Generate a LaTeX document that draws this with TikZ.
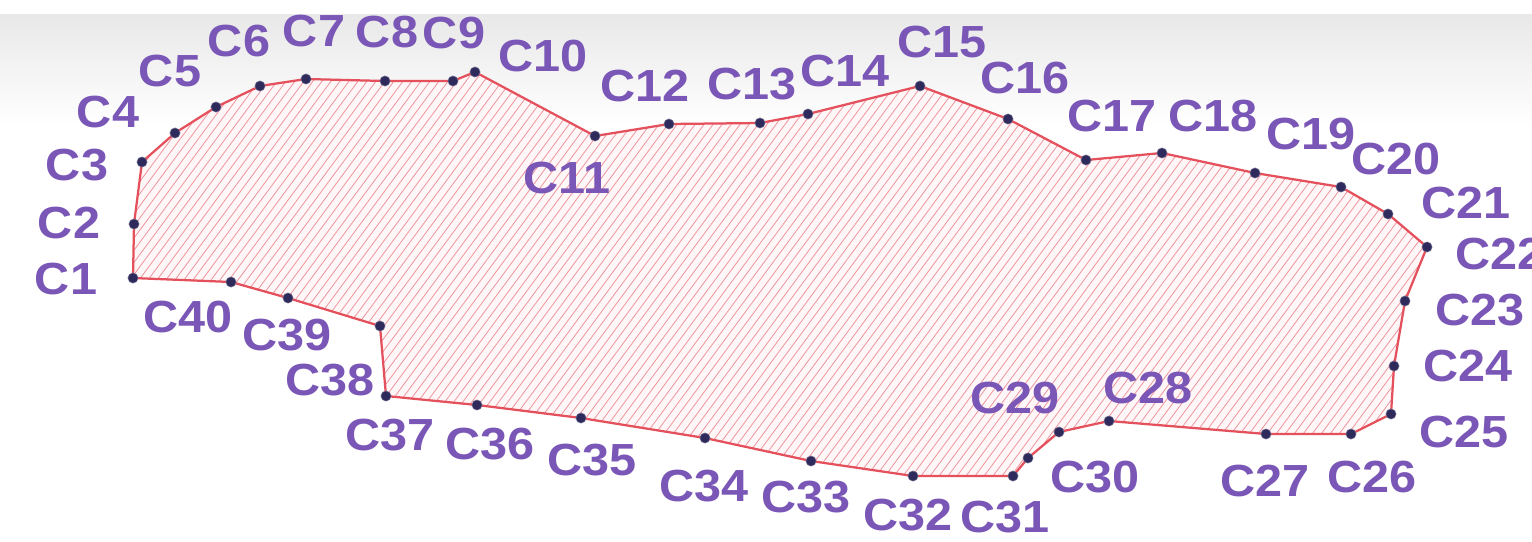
\documentclass[tikz,border=0pt]{standalone}
\usepackage{fontspec}
\newfontfamily\labfont{Liberation Sans}[FakeStretch=1.08]
\usetikzlibrary{calc}
\definecolor{parcelred}{HTML}{E4505C}
\definecolor{hatchpink}{HTML}{EE98A2}
\definecolor{parcelpurple}{HTML}{7A56B6}
\definecolor{pointnavy}{HTML}{2F2A5C}
\tikzset{
  x=0.025cm, y=-0.025cm,
  pt/.style={circle, fill=pointnavy, draw=pointnavy!70, inner sep=0pt, minimum size=7.2pt},
  lab/.style={text=parcelpurple, inner sep=0pt, font=\labfont\bfseries\fontsize{32}{32}\selectfont},
  border/.style={draw=parcelred, line width=1.6pt, line join=round},
  hatchline/.style={draw=hatchpink, line width=0.6pt},
}

\begin{document}
\begin{tikzpicture}
  \useasboundingbox (0,0) rectangle (1532,541);
  \fill[white] (0,0) rectangle (1532,541);
  % scanned paper band at the top
  \shade[top color=black!9, bottom color=white] (0,14) rectangle (1532,125);

  % corner points of the parcel
  \foreach \i/\px/\py in {1/133/278, 2/134/224, 3/142/162, 4/175/133, 5/216/107,
      6/260/86, 7/306/79, 8/385/81, 9/453/81, 10/475/72,
      11/595/136, 12/669/124, 13/760/123, 14/808/114, 15/920/86,
      16/1008/119, 17/1086/160, 18/1162/153, 19/1255/173, 20/1341/187,
      21/1388/214, 22/1427/247, 23/1405/301, 24/1394/366, 25/1391/414,
      26/1351/434, 27/1266/434, 28/1109/421, 29/1059/432, 30/1028/458,
      31/1013/476, 32/913/476, 33/811/461, 34/705/438, 35/581/418,
      36/477/405, 37/386/396, 38/380/326, 39/288/298, 40/231/282}
    \coordinate (c\i) at (\px,\py);

  % hatched area
  \begin{scope}
    \clip (c1) \foreach \i in {2,...,40} { -- (c\i) } -- cycle;
    \fill[red!3] (0,0) rectangle (1532,541);
    \foreach \k in {-50,...,170}
      \draw[hatchline] (\k*9,541) -- (\k*9+400,0);
  \end{scope}

  % boundary
  \draw[border] (c1) \foreach \i in {2,...,40} { -- (c\i) } -- cycle;
  \foreach \i in {1,...,40}
    \node[pt] (p\i) at (c\i) {};

  % point names
  \foreach \i/\lx/\ly in {1/66/279, 2/69/223, 3/77/165, 4/108/112, 5/170/71,
      6/239/41, 7/314/31, 8/387/32, 9/454/33, 10/543/56,
      11/567/178, 12/645/86, 13/752/84, 14/845/71, 15/942/42,
      16/1025/78, 17/1112/116, 18/1213/116, 19/1311/134, 20/1396/159,
      21/1466/203, 22/1500/254, 23/1480/310, 24/1468/366, 25/1464/432,
      26/1372/477, 27/1265/481, 28/1148/388, 29/1015/398, 30/1095/477,
      31/1005/517, 32/908/515, 33/806/497, 34/704/486, 35/592/460,
      36/490/444, 37/390/435, 38/330/380, 39/287/335, 40/188/317}
    \node[lab] (l\i) at (\lx,\ly) {C\i};
\end{tikzpicture}
\end{document}
